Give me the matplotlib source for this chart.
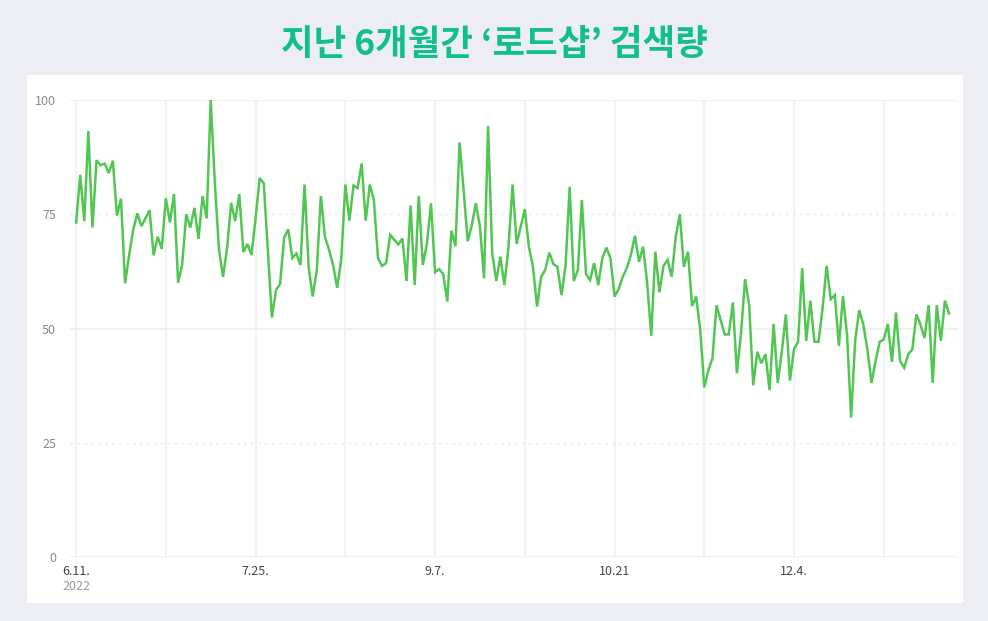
import numpy as np
import pandas as pd
import matplotlib
matplotlib.use("Agg")
import matplotlib.pyplot as plt
from matplotlib.patches import Rectangle

plt.rcParams['font.family'] = ['Noto Sans CJK KR', 'DejaVu Sans']

# daily search volume (relative, max = 100)
vals_jun = [73.2, 83.6, 73.5, 93.2, 72.1, 86.8, 85.7, 86.1, 84, 86.7, 74.7, 78.4, 59.9,
            66.1, 71.6, 75.2, 72.4, 74.1, 75.9, 66, 70.1, 67.4, 78.5, 73.2, 79.4, 60]
vals_jul = [64, 75, 72.1, 76.4, 69.6, 79, 74.1, 100, 82, 67.5, 61.3, 67.5, 77.5, 73.5,
            79.4, 66.7, 68.5, 66.1, 74.1, 82.9, 81.8, 67, 52.4, 58.4, 59.7, 69.9, 71.7]
vals_aug = [65.4, 66.4, 63.9, 81.5, 63.5, 57, 62.8, 79, 70.1, 67.2, 63.9, 58.9, 65, 81.5,
            73.6, 81.3, 80.7, 86.1, 73.6, 81.5, 78.1, 65.4, 63.7, 64.3, 70.5, 69.4, 68.4]
vals_sep_oct = [69.7, 60.4, 76.9, 59.5, 79, 63.9, 68.6, 77.4, 62.3, 63, 61.9, 55.9, 71.4,
                68, 90.7, 80.3, 69.1, 72.6, 77.4, 72.3, 61, 94.3, 66.5, 60.4, 65.7, 59.5,
                67.9, 81.5, 68.5, 72.3, 76.1, 67.9, 63.5, 54.8, 61.3, 62.8, 66.6, 64.1,
                63.5, 57.3, 63.9, 81, 60.4, 62.8, 78.1, 61.9, 60.6, 64.3, 59.5, 65.4, 67.7,
                65.4, 57, 58.6, 61.3, 63.2, 66.1, 70.3, 64.6, 67.9, 59.9]
vals_nov_jan = [48.4, 66.8, 57.9, 63.7, 65, 61.3, 70.1, 75, 63.5, 66.8, 54.9, 57, 49.7,
                37.1, 40.9, 43.5, 55.1, 51.9, 48.7, 48.7, 55.7, 40.2, 48.9, 60.8, 55.1,
                37.6, 44.9, 42.4, 44.4, 36.5, 51, 38.1, 44.9, 53.1, 38.6, 45.5, 47.1,
                63.2, 47.3, 56.1, 47.1, 47.1, 54.4, 63.7, 56.4, 57.3, 46.2, 57.1, 48.6,
                30.5, 47.5, 54, 50.8, 45.3, 38.1, 42.9, 47.1, 47.6, 51, 42.7, 53.5, 42.9,
                41.4, 44.4, 45.4, 53.1, 50.8, 47.9, 55.1, 38.1, 55.1, 47.3, 56.1, 53.3]

values = vals_jun + vals_jul + vals_aug + vals_sep_oct + vals_nov_jan
dates = pd.date_range("2022-06-11", periods=len(values), freq="D")

tick_dates = pd.to_datetime(["2022-06-11", "2022-07-25", "2022-09-07", "2022-10-21", "2022-12-04"])
tick_labels = ["6.11.", "7.25.", "9.7.", "10.21", "12.4."]
year_label = "2022"
grid_dates = pd.date_range("2022-06-11", periods=10, freq="22D")
y_ticks = [0, 25, 50, 75, 100]

title = "지난 6개월간 ‘로드샵’ 검색량"

fig = plt.figure(figsize=(9.88, 6.21), dpi=100)
fig.patch.set_facecolor("#edeef3")

# white card behind the chart
card = Rectangle((27 / 988, 1 - 603 / 621), 936 / 988, 528 / 621,
                 transform=fig.transFigure, facecolor="white",
                 edgecolor="none", zorder=-10)
fig.add_artist(card)

fig.text(0.5, 1 - 44 / 621, title, ha="center", va="center", fontsize=25.5,
         fontweight="bold", color="#10bf8a")

ax = fig.add_axes([70 / 988, 1 - 557 / 621, 888 / 988, 457 / 621])
ax.set_facecolor("none")

x0 = dates[0] - pd.Timedelta(days=1.5)
x1 = dates[0] + pd.Timedelta(days=216.2)
ax.set_xlim(x0, x1)
ax.set_ylim(0, 100)

# grid
for d in grid_dates:
    ax.axvline(d, color="#f0f0f0", lw=1.2, zorder=1)
for y in y_ticks:
    if y in (25, 75):
        ax.axhline(y, color="#e8e8e8", lw=1, ls=(0, (2, 3)), zorder=1)
    else:
        ax.axhline(y, color="#eeeeee", lw=1.2, zorder=1)

ax.plot(dates, values, color="#52c652", lw=1.8, zorder=3, clip_on=False,
        solid_joinstyle="miter")

for s in ax.spines.values():
    s.set_visible(False)

ax.set_yticks(y_ticks)
ax.set_yticklabels([str(v) for v in y_ticks])
ax.set_xticks(tick_dates)
ax.set_xticklabels(tick_labels)
ax.tick_params(axis="y", length=0, pad=10, labelsize=9, labelcolor="#8a8a8a")
ax.tick_params(axis="x", length=0, pad=6, labelsize=9, labelcolor="#444444")

# year under the first date label
ax.annotate(year_label, xy=(tick_dates[0], 0), xytext=(0, -16.5),
            textcoords="offset points", ha="center", va="top",
            fontsize=9, color="#9a9a9a", annotation_clip=False)

fig.savefig("out.png", dpi=100, facecolor=fig.get_facecolor())
